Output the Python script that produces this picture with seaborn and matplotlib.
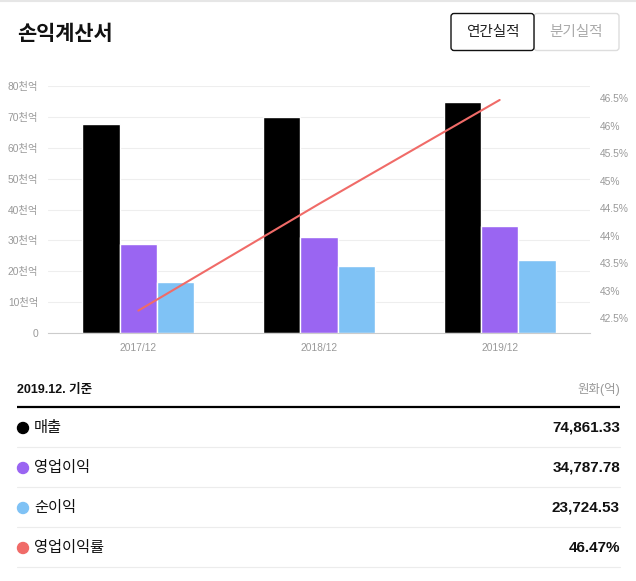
import numpy as np
import pandas as pd
import matplotlib
matplotlib.use("Agg")
import matplotlib.pyplot as plt
from matplotlib.patches import Circle, FancyBboxPatch
import seaborn as sns

# ── Data ────────────────────────────────────────────────────
years = ["2017/12", "2018/12", "2019/12"]
items = ["매출", "영업이익", "순이익"]
sales = [67700, 70050, 74861.33]
op_income = [28800, 31200, 34787.78]
net_income = [16500, 21700, 23724.53]
op_margin = [42.64, 44.58, 46.47]

left_ticks = [0, 10000, 20000, 30000, 40000, 50000, 60000, 70000, 80000]
right_ticks = [42.5, 43, 43.5, 44, 44.5, 45, 45.5, 46, 46.5]

table_labels = ["매출", "영업이익", "순이익", "영업이익률"]
table_values = ["74,861.33", "34,787.78", "23,724.53", "46.47%"]

bar_colors = ["#000000", "#9a65f2", "#7fc2f5"]
line_color = "#f06b68"
dot_colors = bar_colors + [line_color]

sns.set_style("white")
plt.rcParams["font.family"] = ["Liberation Sans", "Noto Sans CJK KR", "DejaVu Sans"]

df = pd.DataFrame({
    "year": years * 3,
    "item": [items[0]] * 3 + [items[1]] * 3 + [items[2]] * 3,
    "value": sales + op_income + net_income,
})

W, H = 636, 581
fig = plt.figure(figsize=(W / 100, H / 100), dpi=100)

# ── overlay for header / table (pixel coordinates) ──────────
ov = fig.add_axes([0, 0, 1, 1])
ov.set_xlim(0, W)
ov.set_ylim(H, 0)
ov.axis("off")

ov.plot([0, W], [0.5, 0.5], color="#e6e6e6", lw=1.5)
ov.text(17, 34, "손익계산서", fontsize=15, fontweight="bold", color="#111111",
        ha="left", va="center")
ov.add_patch(FancyBboxPatch((534, 13.5), 85, 37, boxstyle="round,pad=0,rounding_size=3",
                            fc="white", ec="#dddddd", lw=1))
ov.add_patch(FancyBboxPatch((451, 13.5), 83, 37, boxstyle="round,pad=0,rounding_size=3",
                            fc="white", ec="#111111", lw=1))
ov.text(492.5, 32, "연간실적", fontsize=10.5, color="#222222", ha="center", va="center")
ov.text(576.5, 32, "분기실적", fontsize=10.5, color="#aaaaaa", ha="center", va="center")

ov.text(17, 390, "2019.12. 기준", fontsize=9, fontweight="bold", color="#111111",
        ha="left", va="center")
ov.text(620, 390, "원화(억)", fontsize=9, color="#999999", ha="right", va="center")
ov.plot([17, 620], [406.5, 406.5], color="black", lw=1.6, solid_capstyle="butt")

for i, (lab, val, col) in enumerate(zip(table_labels, table_values, dot_colors)):
    y = 428 + 40 * i
    ov.add_patch(Circle((23, y), 5.5, color=col))
    ov.text(34, y, lab, fontsize=11, color="#111111", ha="left", va="center")
    ov.text(620, y, val, fontsize=11, fontweight="bold", color="#111111",
            ha="right", va="center")
    ov.plot([17, 620], [y + 19, y + 19], color="#ececec", lw=0.8)

# ── main chart ──────────────────────────────────────────────
ax = fig.add_axes([48 / W, (H - 333) / H, (590 - 48) / W, (333 - 86) / H])
sns.barplot(data=df, x="year", y="value", hue="item", palette=bar_colors,
            width=0.62, saturation=1, edgecolor="white", linewidth=1,
            legend=False, ax=ax)
ax.set_xlim(-0.5, 2.5)
ax.set_ylim(0, 80000)
ax.set_yticks(left_ticks)
ax.set_yticklabels(["0" if v == 0 else f"{v // 1000}천억" for v in left_ticks])
ax.set_xlabel("")
ax.set_ylabel("")
ax.set_axisbelow(True)
ax.yaxis.grid(True, color="#eeeeee", lw=0.8)
ax.xaxis.grid(False)
for s in ["top", "right", "left"]:
    ax.spines[s].set_visible(False)
ax.spines["bottom"].set_color("#cccccc")
ax.spines["bottom"].set_linewidth(0.8)
ax.tick_params(axis="y", length=0, pad=7, labelsize=7.4, labelcolor="#999999")
ax.tick_params(axis="x", which="major", length=0, pad=7, labelsize=7.4, labelcolor="#999999")
ax.set_xticks([-0.5, 0.5, 1.5, 2.5], minor=True)
ax.tick_params(axis="x", which="minor", length=4, color="#cccccc", width=0.8)

ax2 = ax.twinx()
sns.lineplot(x=np.arange(len(years)), y=op_margin, color=line_color, lw=1.5, ax=ax2)
ax2.set_xlim(-0.5, 2.5)
ax2.set_ylim(42.233, 46.724)
ax2.set_yticks(right_ticks)
ax2.set_yticklabels([f"{v:g}%" for v in right_ticks])
ax2.set_ylabel("")
ax2.grid(False)
for s in ax2.spines.values():
    s.set_visible(False)
ax2.tick_params(axis="y", length=0, pad=7, labelsize=7.4, labelcolor="#999999")

fig.savefig("out.png", dpi=100)
plt.close(fig)
